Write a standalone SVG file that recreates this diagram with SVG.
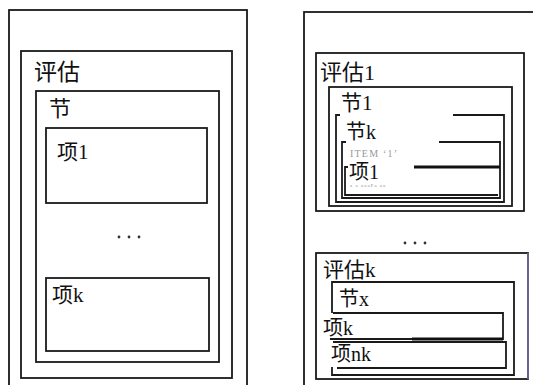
<svg xmlns="http://www.w3.org/2000/svg" width="533" height="385" viewBox="0 0 533 385">
<style>
.b{fill:none;stroke:#1a1a1a;stroke-width:1.8}
.t{font-family:"Liberation Serif","Noto Sans CJK SC",serif;fill:#111}
.g{font-family:"Liberation Serif",serif;fill:#999}
.d{fill:#333}
</style>
<rect width="533" height="385" fill="#fff"/>
<g id="left-panel">
<rect class="b" x="9" y="10" width="238" height="390"/>
</g>
<g id="eval">
<rect class="b" x="21" y="51" width="211" height="327"/>
<text class="t" x="34" y="80" font-size="23">评估</text>
</g>
<g id="section">
<rect class="b" x="36" y="91" width="183" height="271"/>
<text class="t" x="49" y="116" font-size="22">节</text>
</g>
<g id="item1">
<rect class="b" x="46" y="128" width="161" height="75"/>
<text class="t" x="57" y="159" font-size="21">项1</text>
</g>
<g id="dots-left">
<circle class="d" cx="119" cy="237" r="1.4"/><circle class="d" cx="129" cy="237" r="1.4"/><circle class="d" cx="139" cy="237" r="1.4"/>
</g>
<g id="itemk">
<rect class="b" x="46" y="278" width="163" height="73"/>
<text class="t" x="52" y="302" font-size="21">项k</text>
</g>

<g id="right-panel">
<rect class="b" x="304" y="12" width="240" height="390"/>
</g>
<g id="eval1">
<rect class="b" x="316" y="53" width="208" height="158"/>
<text class="t" x="320" y="80" font-size="22">评估1</text>
</g>
<g id="sec1">
<rect class="b" x="329" y="87" width="183" height="119"/>
<text class="t" x="341" y="110" font-size="21">节1</text>
</g>
<g id="seck">
<path class="b" d="M340,115 H336 V202 H504 V115 H453"/>
<text class="t" x="346" y="139" font-size="20">节k</text>
</g>
<g id="itemref">
<path class="b" d="M346,142 H342 V198 H500 V142 H439"/>
<text class="g" x="350" y="157" font-size="10" letter-spacing="1.2">ITEM ‘1’</text>
</g>
<g id="item1r">
<path class="b" d="M348,167 H345 V195 H498"/>
<line x1="414" y1="167" x2="500" y2="167" stroke="#111" stroke-width="3"/>
<text class="t" x="349" y="179" font-size="20">项1</text>
<text class="g" x="350" y="187" font-size="5" letter-spacing="1">a a aaaPa   aa</text>
</g>
<g id="dots-right">
<circle class="d" cx="405" cy="243" r="1.4"/><circle class="d" cx="415" cy="243" r="1.4"/><circle class="d" cx="425" cy="243" r="1.4"/>
</g>
<g id="evalk">
<rect x="316" y="253" width="212" height="126" fill="none" stroke="#1a1a1a" stroke-width="1.8"/>
<line x1="528" y1="253" x2="528" y2="379" stroke="#6a6a9a" stroke-width="1.8"/>
<text class="t" x="323" y="277" font-size="21">评估k</text>
</g>
<g id="secx">
<path class="b" d="M332,313 V282 H514 V375 H332 V367"/>
<text class="t" x="339" y="306" font-size="20">节x</text>
</g>
<g id="itemk-r">
<path class="b" d="M333,313 H503 V339 H330"/>
<line x1="412" y1="339" x2="503" y2="339" stroke="#111" stroke-width="3"/>
<text class="t" x="323" y="335" font-size="20">项k</text>
</g>
<g id="itemnk">
<path class="b" d="M333,342 H506 V368 H337"/>
<text class="t" x="331" y="361" font-size="20">项nk</text>
</g>
</svg>
